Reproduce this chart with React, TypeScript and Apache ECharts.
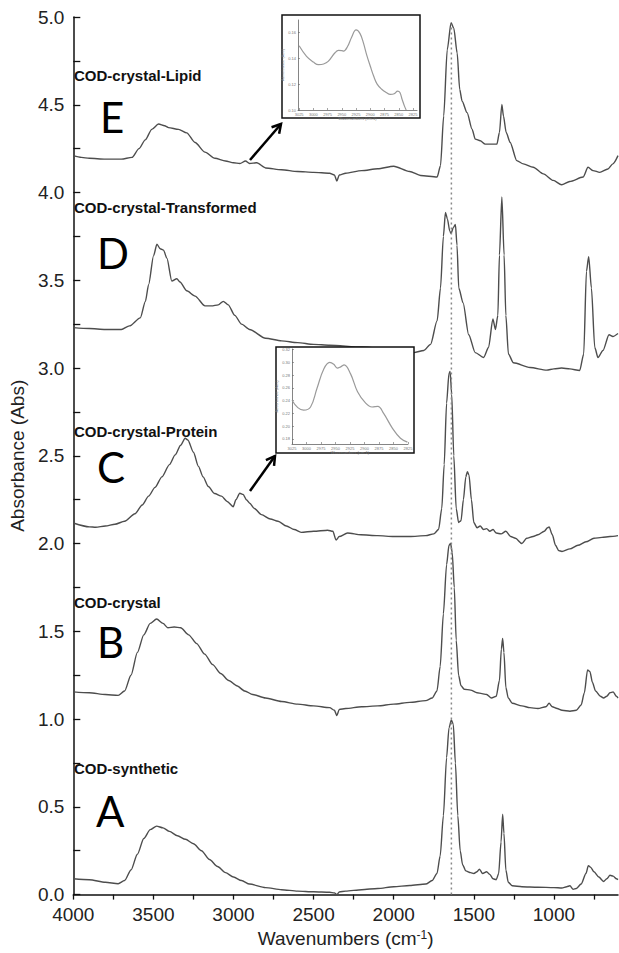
import React, { useEffect, useRef } from "react";
import * as echarts from "echarts";

// ---------- data ----------
const X_LABELS = [4000, 3500, 3000, 2500, 2000, 1500, 1000];
const X_TICKS = [4000, 3750, 3500, 3250, 3000, 2750, 2500, 2250, 2000, 1750, 1500, 1250, 1000, 750];
const INSET_X_LABELS = [3025, 3000, 2975, 2950, 2925, 2900, 2875, 2850, 2825];
const INSET1_Y_LABELS = [0.1, 0.12, 0.14, 0.16];
const INSET2_Y_LABELS = [0.18, 0.2, 0.22, 0.24, 0.26, 0.28, 0.3, 0.32];
const DOTTED_WN = 1640;
const DOTTED_TOP = 4.96;

const synthetic = [
  [4000, 0.09], [3900, 0.085], [3800, 0.07], [3720, 0.062], [3680, 0.08], [3640, 0.14], [3600, 0.23],
  [3560, 0.32], [3520, 0.37], [3480, 0.39], [3440, 0.38], [3400, 0.36], [3350, 0.335], [3300, 0.315],
  [3250, 0.29], [3200, 0.25], [3150, 0.2], [3100, 0.16], [3050, 0.125], [3000, 0.1], [2950, 0.08],
  [2900, 0.06], [2800, 0.04], [2700, 0.028], [2600, 0.02], [2500, 0.016], [2400, 0.013], [2370, 0.01],
  [2355, 0.0], [2340, 0.015], [2300, 0.02], [2200, 0.028], [2100, 0.035], [2000, 0.045], [1900, 0.052],
  [1800, 0.06], [1760, 0.08], [1730, 0.12], [1710, 0.22], [1690, 0.45], [1670, 0.78], [1655, 0.95],
  [1640, 0.995], [1628, 0.97], [1615, 0.75], [1600, 0.45], [1585, 0.25], [1570, 0.17], [1550, 0.135],
  [1520, 0.125], [1500, 0.12], [1480, 0.13], [1465, 0.145], [1445, 0.12], [1420, 0.13], [1400, 0.115],
  [1380, 0.09], [1360, 0.085], [1345, 0.12], [1330, 0.3], [1320, 0.458], [1312, 0.35], [1300, 0.14],
  [1285, 0.07], [1260, 0.05], [1200, 0.045], [1100, 0.042], [1000, 0.04], [950, 0.038], [920, 0.045],
  [900, 0.05], [880, 0.03], [860, 0.035], [830, 0.06], [800, 0.12], [785, 0.165], [770, 0.155],
  [750, 0.13], [720, 0.1], [690, 0.075], [670, 0.09], [650, 0.11], [630, 0.105], [610, 0.09], [600, 0.085],
];

const crystal = [
  [4000, 1.155], [3900, 1.15], [3800, 1.14], [3720, 1.135], [3680, 1.16], [3640, 1.25], [3600, 1.38],
  [3560, 1.48], [3520, 1.545], [3480, 1.57], [3440, 1.545], [3410, 1.52], [3370, 1.525], [3330, 1.52],
  [3280, 1.48], [3230, 1.43], [3180, 1.37], [3130, 1.31], [3080, 1.26], [3030, 1.22], [2980, 1.19],
  [2930, 1.16], [2880, 1.14], [2800, 1.12], [2700, 1.1], [2600, 1.085], [2500, 1.075], [2400, 1.065],
  [2370, 1.05], [2355, 1.02], [2340, 1.055], [2300, 1.06], [2200, 1.07], [2100, 1.075], [2000, 1.085],
  [1900, 1.095], [1800, 1.105], [1760, 1.12], [1730, 1.16], [1710, 1.3], [1690, 1.6], [1670, 1.88],
  [1655, 1.99], [1645, 2.0], [1635, 1.95], [1622, 1.75], [1610, 1.45], [1595, 1.25], [1580, 1.19],
  [1560, 1.17], [1520, 1.165], [1480, 1.15], [1450, 1.145], [1420, 1.14], [1390, 1.12], [1360, 1.13],
  [1340, 1.22], [1328, 1.4], [1320, 1.46], [1312, 1.38], [1300, 1.18], [1285, 1.12], [1260, 1.09],
  [1200, 1.075], [1150, 1.065], [1100, 1.06], [1050, 1.07], [1030, 1.09], [1010, 1.07], [980, 1.06],
  [950, 1.05], [900, 1.045], [860, 1.05], [830, 1.08], [810, 1.15], [790, 1.28], [775, 1.27],
  [760, 1.21], [740, 1.16], [710, 1.13], [690, 1.12], [670, 1.13], [650, 1.15], [630, 1.155],
  [610, 1.13], [600, 1.12],
];

const protein = [
  [4000, 2.117], [3900, 2.095], [3860, 2.093], [3800, 2.1], [3740, 2.11], [3680, 2.127], [3615, 2.17],
  [3570, 2.22], [3530, 2.27], [3490, 2.32], [3447, 2.38], [3400, 2.45], [3364, 2.505], [3330, 2.56],
  [3302, 2.6], [3285, 2.59], [3250, 2.52], [3219, 2.44], [3190, 2.38], [3157, 2.325], [3118, 2.285],
  [3075, 2.27], [3040, 2.24], [3002, 2.21], [2985, 2.25], [2961, 2.287], [2940, 2.28], [2920, 2.25],
  [2899, 2.23], [2870, 2.2], [2826, 2.165], [2770, 2.14], [2722, 2.127], [2670, 2.1], [2621, 2.08],
  [2578, 2.064], [2500, 2.07], [2412, 2.076], [2380, 2.07], [2360, 2.02], [2340, 2.04], [2288, 2.06],
  [2205, 2.05], [2100, 2.045], [2000, 2.04], [1900, 2.04], [1800, 2.045], [1750, 2.055], [1720, 2.08],
  [1700, 2.2], [1685, 2.45], [1670, 2.8], [1655, 2.97], [1648, 2.98], [1638, 2.85], [1625, 2.5],
  [1610, 2.2], [1595, 2.12], [1580, 2.13], [1565, 2.25], [1550, 2.38], [1540, 2.41], [1530, 2.39],
  [1515, 2.25], [1500, 2.12], [1480, 2.09], [1460, 2.1], [1440, 2.08], [1420, 2.085], [1400, 2.07],
  [1380, 2.08], [1360, 2.06], [1330, 2.055], [1300, 2.07], [1270, 2.04], [1240, 2.03], [1200, 2.0],
  [1170, 2.03], [1130, 2.04], [1100, 2.05], [1060, 2.07], [1040, 2.09], [1030, 2.095], [1010, 2.05],
  [990, 1.99], [970, 1.96], [950, 1.955], [900, 1.97], [850, 1.99], [800, 2.01], [750, 2.03],
  [700, 2.035], [650, 2.04], [600, 2.045],
];

const transformed = [
  [4000, 3.23], [3900, 3.225], [3800, 3.22], [3700, 3.22], [3650, 3.24], [3582, 3.286], [3550, 3.38],
  [3530, 3.475], [3499, 3.64], [3478, 3.705], [3458, 3.68], [3437, 3.672], [3416, 3.626], [3385, 3.495],
  [3354, 3.509], [3334, 3.49], [3292, 3.44], [3240, 3.41], [3178, 3.354], [3137, 3.354], [3095, 3.36],
  [3064, 3.38], [3033, 3.36], [2992, 3.3], [2950, 3.25], [2900, 3.22], [2800, 3.17], [2700, 3.155],
  [2600, 3.145], [2500, 3.135], [2400, 3.13], [2200, 3.12], [2000, 3.105], [1874, 3.088], [1812, 3.1],
  [1770, 3.135], [1729, 3.27], [1708, 3.456], [1690, 3.75], [1677, 3.886], [1665, 3.85], [1650, 3.78],
  [1642, 3.767], [1628, 3.8], [1615, 3.818], [1605, 3.7], [1594, 3.456], [1567, 3.371], [1532, 3.19],
  [1491, 3.088], [1439, 3.06], [1408, 3.117], [1381, 3.28], [1365, 3.22], [1350, 3.3], [1340, 3.644],
  [1325, 3.975], [1311, 3.644], [1300, 3.3], [1284, 3.08], [1253, 3.03], [1149, 3.003], [1045, 2.988],
  [1000, 2.995], [952, 3.0], [900, 2.995], [839, 2.986], [814, 3.08], [797, 3.55], [783, 3.635],
  [766, 3.456], [745, 3.117], [725, 3.06], [694, 3.1], [656, 3.19], [632, 3.18], [600, 3.197],
];

const lipid = [
  [4000, 4.21], [3950, 4.2], [3900, 4.195], [3800, 4.19], [3700, 4.19], [3634, 4.2], [3590, 4.25],
  [3551, 4.3], [3510, 4.36], [3468, 4.39], [3430, 4.38], [3406, 4.37], [3343, 4.36], [3292, 4.34],
  [3240, 4.285], [3178, 4.23], [3116, 4.195], [3050, 4.18], [3000, 4.17], [2960, 4.165], [2925, 4.18],
  [2900, 4.165], [2855, 4.17], [2800, 4.14], [2700, 4.13], [2600, 4.12], [2500, 4.115], [2400, 4.11],
  [2370, 4.1], [2355, 4.065], [2340, 4.1], [2300, 4.11], [2200, 4.125], [2100, 4.135], [2000, 4.15],
  [1900, 4.12], [1832, 4.097], [1729, 4.088], [1708, 4.153], [1688, 4.436], [1666, 4.813], [1642, 4.968],
  [1625, 4.936], [1604, 4.795], [1588, 4.587], [1573, 4.52], [1542, 4.455], [1511, 4.361], [1491, 4.304],
  [1460, 4.295], [1429, 4.276], [1356, 4.276], [1340, 4.342], [1325, 4.502], [1315, 4.436], [1298, 4.342],
  [1273, 4.285], [1232, 4.182], [1191, 4.163], [1129, 4.144], [1066, 4.106], [1004, 4.069], [952, 4.044],
  [901, 4.063], [818, 4.088], [787, 4.144], [756, 4.125], [714, 4.115], [663, 4.134], [632, 4.163],
  [600, 4.21],
];

const lipidInset = [
  [3025, 0.1496], [3012, 0.1414], [3000, 0.137], [2991, 0.135], [2982, 0.1355], [2974, 0.1375],
  [2962, 0.1442], [2956, 0.146], [2950, 0.1458], [2947, 0.1455], [2940, 0.149], [2933, 0.156],
  [2925, 0.1618], [2918, 0.159], [2912, 0.1516], [2906, 0.142], [2900, 0.1338], [2894, 0.126],
  [2888, 0.12], [2880, 0.116], [2872, 0.1135], [2865, 0.112], [2858, 0.1125], [2852, 0.1145],
  [2848, 0.1135], [2844, 0.108], [2840, 0.103], [2837, 0.1],
];

const proteinInset = [
  [3025, 0.2407], [3015, 0.229], [3005, 0.225], [2993, 0.23], [2982, 0.259], [2970, 0.29], [2960, 0.3],
  [2953, 0.297], [2947, 0.291], [2941, 0.293], [2935, 0.296], [2924, 0.282], [2912, 0.254], [2898, 0.236],
  [2887, 0.23], [2877, 0.231], [2867, 0.22], [2852, 0.197], [2838, 0.181], [2826, 0.175],
];

const SERIES_NAMES = ["COD-synthetic", "COD-crystal", "COD-crystal-Protein", "COD-crystal-Transformed", "COD-crystal-Lipid"];
const SERIES_LETTERS = ["A", "B", "C", "D", "E"];

// ---------- component ----------
function arrow(tx: number, ty: number, px: number, py: number) {
  const dx = px - tx;
  const dy = py - ty;
  const len = Math.hypot(dx, dy);
  const ux = dx / len;
  const uy = dy / len;
  const h = 10;
  const a = Math.PI / 6;
  const rot = (ang: number) => [
    px - h * (ux * Math.cos(ang) - uy * Math.sin(ang)),
    py - h * (ux * Math.sin(ang) + uy * Math.cos(ang)),
  ];
  return [
    { type: "line", z: 10, shape: { x1: tx, y1: ty, x2: px, y2: py }, style: { stroke: "#000", lineWidth: 2.5 } },
    { type: "polyline", z: 10, shape: { points: [rot(a), [px, py], rot(-a)] }, style: { stroke: "#000", lineWidth: 2.5, fill: null } },
  ];
}

export default function App() {
  const ref = useRef<HTMLDivElement>(null);
  useEffect(() => {
    if (!ref.current) return;
    const chart = echarts.init(ref.current, null, { renderer: "svg" });
    const lineColor = "#4d4d4d";
    const font = "'Liberation Sans', Arial, sans-serif";
    const intFmt = (v: number) => String(Math.round(v));
    const mainSeries = [synthetic, crystal, protein, transformed, lipid].map((d, i) => ({
      name: SERIES_NAMES[i],
      type: "line",
      data: d,
      xAxisIndex: 0,
      yAxisIndex: 0,
      showSymbol: false,
      symbol: "none",
      smooth: 0.25,
      smoothMonotone: "x",
      lineStyle: { color: lineColor, width: 1.4 },
      z: 3,
      silent: true,
    }));

    const labelPos = [
      { lx: 74, ly: 768, bx: 96, by: 811 },
      { lx: 74, ly: 602, bx: 97, by: 642 },
      { lx: 74, ly: 431, bx: 97, by: 467 },
      { lx: 74, ly: 207, bx: 97, by: 253 },
      { lx: 74, ly: 75, bx: 100, by: 117 },
    ];
    const texts: any[] = [];
    labelPos.forEach((p, i) => {
      texts.push({
        type: "text", x: p.lx, y: p.ly, z: 10,
        style: { text: SERIES_NAMES[i], fontSize: 15, fontWeight: "bold", fontFamily: font, fill: "#111", verticalAlign: "middle", align: "left" },
      });
      texts.push({
        type: "text", x: p.bx, y: p.by, z: 10,
        style: { text: SERIES_LETTERS[i], fontSize: 42, fontFamily: "Lato, 'Open Sans', sans-serif", fill: "#000", verticalAlign: "middle", align: "left" },
      });
    });

    const insetAxisCommon = {
      axisLine: { show: true, lineStyle: { color: "#666", width: 0.8 } },
      axisTick: { show: true, inside: true, length: 2, lineStyle: { color: "#666", width: 0.6 } },
      splitLine: { show: false },
      z: 12,
    };
    const insetLabelStyle = { fontSize: 4, color: "#777", fontFamily: font, margin: 2 };

    const option: any = {
      animation: false,
      grid: [
        { left: 71, right: 1, top: 17, bottom: 52 },
        { left: 298, top: 20, width: 119, height: 90 },
        { left: 292, top: 349, width: 116, height: 95 },
      ],
      xAxis: [
        {
          type: "value", gridIndex: 0, inverse: true, min: 600, max: 4000,
          name: "Wavenumbers (cm{sup|-1})", nameLocation: "middle", nameGap: 31,
          nameTextStyle: {
            fontSize: 19, fontFamily: font, color: "#222",
            rich: { sup: { fontSize: 12, fontFamily: font, color: "#222", verticalAlign: "top", padding: [0, 0, 8, 0] } },
          },
          axisLine: { show: true, lineStyle: { color: "#111", width: 1.5 } },
          axisTick: { show: true, inside: false, length: 5, customValues: X_TICKS, lineStyle: { color: "#111", width: 1.3 } },
          axisLabel: { customValues: X_LABELS, fontSize: 19, fontFamily: font, color: "#222", margin: 10, formatter: intFmt },
          splitLine: { show: false },
        },
        {
          type: "value", gridIndex: 1, inverse: true, min: 2818, max: 3027,
          name: "Wavenumbers (cm-1)", nameLocation: "middle", nameGap: 6,
          nameTextStyle: { fontSize: 4, color: "#777", fontFamily: font },
          ...insetAxisCommon,
          axisTick: { ...insetAxisCommon.axisTick, customValues: INSET_X_LABELS },
          axisLabel: { ...insetLabelStyle, customValues: INSET_X_LABELS, formatter: intFmt },
        },
        {
          type: "value", gridIndex: 2, inverse: true, min: 2825, max: 3025,
          name: "Wavenumbers (cm-1)", nameLocation: "middle", nameGap: 6,
          nameTextStyle: { fontSize: 4, color: "#777", fontFamily: font },
          ...insetAxisCommon,
          axisTick: { ...insetAxisCommon.axisTick, customValues: INSET_X_LABELS },
          axisLabel: { ...insetLabelStyle, customValues: INSET_X_LABELS, formatter: intFmt },
        },
      ],
      yAxis: [
        {
          type: "value", gridIndex: 0, min: 0, max: 5, interval: 0.5,
          name: "Absorbance (Abs)", nameLocation: "middle", nameGap: 42,
          nameTextStyle: { fontSize: 19, fontFamily: font, color: "#222" },
          axisLine: { show: true, lineStyle: { color: "#111", width: 1.5 } },
          axisTick: { show: true, inside: true, length: 7, lineStyle: { color: "#111", width: 1.3 } },
          minorTick: { show: true, splitNumber: 2, length: 7, lineStyle: { color: "#111", width: 1.3 } },
          axisLabel: { fontSize: 19, fontFamily: font, color: "#222", margin: 9, formatter: (v: number) => v.toFixed(1) },
          splitLine: { show: false },
        },
        {
          type: "value", gridIndex: 1, min: 0.1, max: 0.1695,
          name: "Absorbance (Abs)", nameLocation: "middle", nameGap: 11,
          nameTextStyle: { fontSize: 4, color: "#777", fontFamily: font },
          ...insetAxisCommon,
          axisTick: { ...insetAxisCommon.axisTick, customValues: INSET1_Y_LABELS },
          axisLabel: { ...insetLabelStyle, customValues: INSET1_Y_LABELS, formatter: (v: number) => v.toFixed(2) },
        },
        {
          type: "value", gridIndex: 2, min: 0.172, max: 0.321,
          name: "Absorbance (Abs)", nameLocation: "middle", nameGap: 11,
          nameTextStyle: { fontSize: 4, color: "#777", fontFamily: font },
          ...insetAxisCommon,
          axisTick: { ...insetAxisCommon.axisTick, customValues: INSET2_Y_LABELS },
          axisLabel: { ...insetLabelStyle, customValues: INSET2_Y_LABELS, formatter: (v: number) => v.toFixed(2) },
        },
      ],
      series: [
        ...mainSeries,
        {
          name: "dotted", type: "line", xAxisIndex: 0, yAxisIndex: 0,
          data: [[DOTTED_WN, 0], [DOTTED_WN, DOTTED_TOP]],
          showSymbol: false, symbol: "none",
          lineStyle: { color: "#888", width: 1.5, type: [2, 3] },
          z: 4, silent: true,
        },
        {
          name: "lipidInset", type: "line", xAxisIndex: 1, yAxisIndex: 1, data: lipidInset,
          showSymbol: false, symbol: "none", smooth: 0.4,
          lineStyle: { color: "#9a9a9a", width: 1.2 }, z: 13, silent: true,
        },
        {
          name: "proteinInset", type: "line", xAxisIndex: 2, yAxisIndex: 2, data: proteinInset,
          showSymbol: false, symbol: "none", smooth: 0.4,
          lineStyle: { color: "#9a9a9a", width: 1.2 }, z: 13, silent: true,
        },
      ],
      graphic: [
        { type: "rect", z: 10, shape: { x: 282, y: 15, width: 138, height: 103 }, style: { fill: "#fff", stroke: "#111", lineWidth: 1.5 } },
        { type: "rect", z: 10, shape: { x: 276, y: 347, width: 138, height: 106 }, style: { fill: "#fff", stroke: "#111", lineWidth: 1.5 } },
        ...arrow(250, 160, 281, 124),
        ...arrow(250, 491, 275, 456),
        ...texts,
      ],
    };
    chart.setOption(option);
    return () => chart.dispose();
  }, []);
  return <div ref={ref} style={{ position: "absolute", left: 0, top: 0, width: 619, height: 953, background: "#fff" }} />;
}
